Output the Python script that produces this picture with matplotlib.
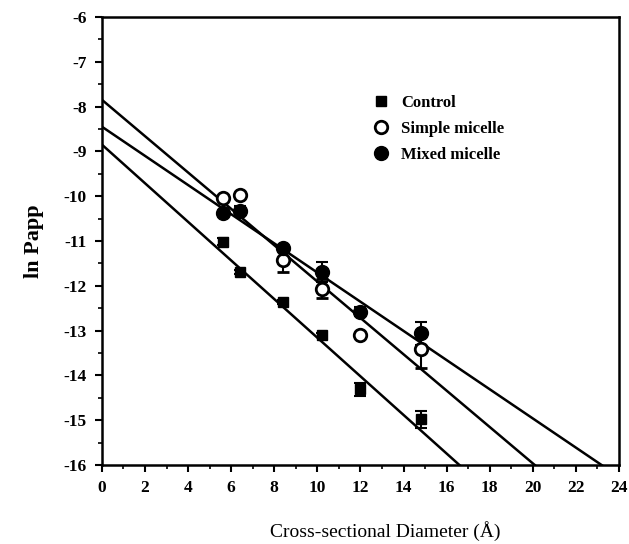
import matplotlib
matplotlib.use('Agg')
import matplotlib.pyplot as plt
import numpy as np

plt.rcParams['font.family'] = ['Liberation Serif', 'DejaVu Serif']
plt.rcParams['axes.unicode_minus'] = False

# cross-sectional diameter (A)
diam = [5.6, 6.4, 8.4, 10.2, 12.0, 14.8]

control_y = [-11.02, -11.69, -12.36, -13.10, -14.31, -14.98]
control_err = [0.08, 0.05, 0.05, 0.05, 0.14, 0.19]

simple_y = [-10.04, -9.97, -11.42, -12.06, -13.10, -13.42]
simple_err = [0.05, 0.05, 0.28, 0.22, 0.05, 0.42]

mixed_y = [-10.38, -10.33, -11.16, -11.69, -12.58, -13.06]
mixed_err = [0.05, 0.10, 0.05, 0.22, 0.10, 0.26]

# fitted regression lines (intercept, slope)
control_fit = (-8.85, -0.4307)
simple_fit = (-7.85, -0.4055)
mixed_fit = (-8.45, -0.3254)

fig = plt.figure(figsize=(6.29, 5.44), dpi=100)
ax = fig.add_axes([0.162, 0.145, 0.822, 0.824])

xs = np.array([0, 24])
for b0, b1 in [control_fit, simple_fit, mixed_fit]:
    ax.plot(xs, b0 + b1 * xs, color='black', lw=1.8, zorder=2)

ekw = dict(ecolor='black', elinewidth=1.5, capsize=4, capthick=1.5, ls='none', zorder=3)
c1 = ax.errorbar(diam, control_y, yerr=control_err, marker='s', ms=6.5, mfc='black',
                 mec='black', label='Control', **ekw)
c2 = ax.errorbar(diam, simple_y, yerr=simple_err, marker='o', ms=9, mfc='white',
                 mec='black', mew=2, label='Simple micelle', **ekw)
c3 = ax.errorbar(diam, mixed_y, yerr=mixed_err, marker='o', ms=10, mfc='black',
                 mec='black', label='Mixed micelle', **ekw)

ax.set_xlim(0, 24)
ax.set_ylim(-16, -6)
ax.set_xticks(range(0, 25, 2))
ax.set_xticks(range(1, 25, 2), minor=True)
ax.set_yticks(range(-16, -5))
ax.set_yticks(np.arange(-15.5, -6, 1.0), minor=True)

for s in ax.spines.values():
    s.set_linewidth(1.8)
ax.tick_params(which='major', direction='out', length=5, width=1.5, labelsize=12.5, pad=6)
ax.tick_params(which='minor', direction='out', length=3, width=1.2)
for lbl in ax.get_xticklabels() + ax.get_yticklabels():
    lbl.set_fontweight('bold')

ax.set_ylabel('ln Papp', fontsize=16, fontweight='bold', labelpad=14)
fig.text(385 / 629, 1 - 531 / 544, 'Cross-sectional Diameter (Å)', fontsize=14,
         ha='center', va='center')

# legend shows markers only, no error bars
ax.legend([c1[0], c2[0], c3[0]], ['Control', 'Simple micelle', 'Mixed micelle'],
          loc='upper left', bbox_to_anchor=(0.505, 0.845), frameon=False,
          handlelength=1.2, handletextpad=0.6, labelspacing=0.6,
          borderpad=0, prop={'weight': 'bold', 'size': 12})

fig.savefig('out.png', dpi=100)
